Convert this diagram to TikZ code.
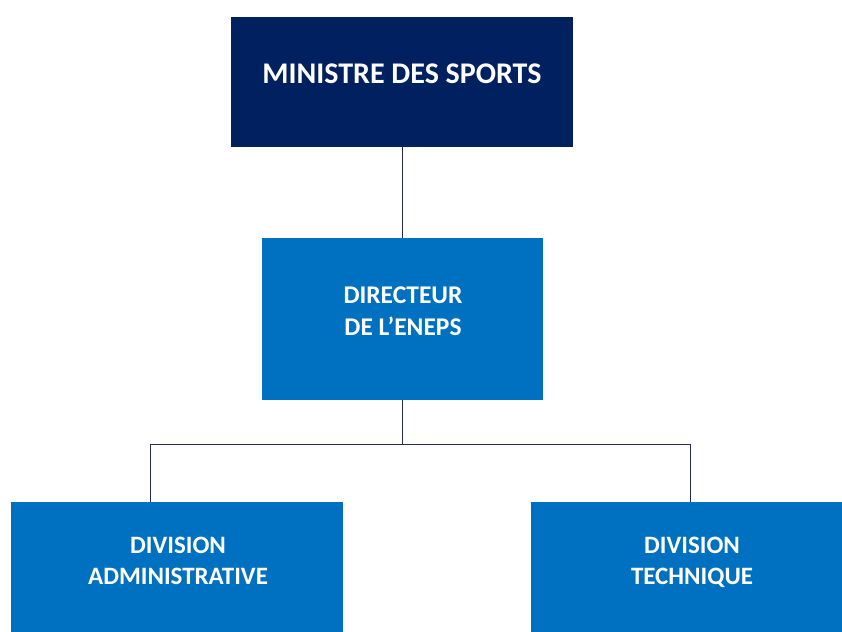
\documentclass[tikz,border=0pt]{standalone}
\usepackage{fontspec}
\setmainfont{Carlito}
\definecolor{navy}{HTML}{002060}
\definecolor{mblue}{HTML}{0070C0}
\definecolor{lnk}{HTML}{2A2A5A}
\begin{document}
\begin{tikzpicture}[x=1pt,y=1pt,
  orgbox/.style={fill=#1, draw=none, inner sep=0pt},
  orgtxt/.style={text=white, font=\bfseries, align=center, inner sep=0pt, anchor=base},
  link/.style={draw=lnk, line width=0.9pt}]
\useasboundingbox (0,0) rectangle (842,-631);
\clip (0,0) rectangle (842,-631);
\fill[white] (0,0) rectangle (842,-631);
% boxes
\node[orgbox=navy, minimum width=342, minimum height=130] (min) at (402,-82) {};
\node[orgbox=mblue, minimum width=281, minimum height=162] (dir) at (402.5,-319) {};
\node[orgbox=mblue, minimum width=332, minimum height=138] (adm) at (177,-571) {};
\node[orgbox=mblue, minimum width=320, minimum height=138] (tec) at (691,-571) {};
% texts
\node[orgtxt, font=\bfseries\fontsize{30}{36}\selectfont] (minT) at (402,-84) {MINISTRE DES SPORTS};
\node[orgtxt, font=\bfseries\fontsize{25.5}{32}\selectfont] (dirT) at (403,-335) {DIRECTEUR\\DE L’ENEPS};
\node[orgtxt, font=\bfseries\fontsize{25}{31}\selectfont] (admT) at (178,-584) {DIVISION\\ADMINISTRATIVE};
\node[orgtxt, font=\bfseries\fontsize{25}{31}\selectfont] (tecT) at (692,-584) {DIVISION\\TECHNIQUE};
% connectors
\coordinate (jm) at (402,-444);
\coordinate (jl) at (150,-444);
\coordinate (jr) at (690,-444);
\draw[link] (min.south -| jm) -- (dir.north -| jm);
\draw[link] (dir.south -| jm) -- (jm);
\draw[link] (jl) -- (jr);
\draw[link] (jl) -- (jl |- adm.north);
\draw[link] (jr) -- (jr |- tec.north);
\end{tikzpicture}
\end{document}
